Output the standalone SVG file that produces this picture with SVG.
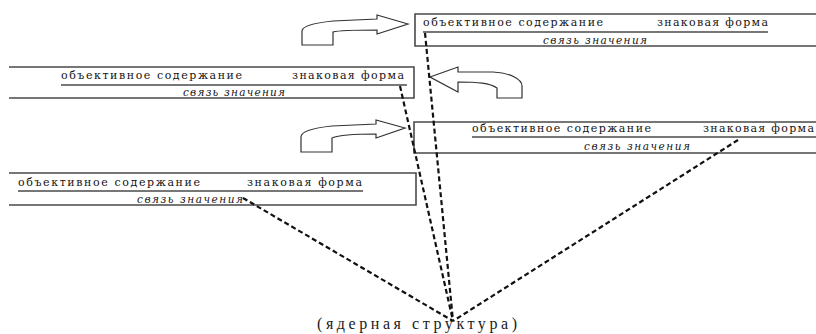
<svg xmlns="http://www.w3.org/2000/svg" width="816" height="334" viewBox="0 0 816 334">
<style>
.bg{fill:#ffffff}
.box{fill:none;stroke:#4a4a4a;stroke-width:1.6}
.ul{fill:none;stroke:#4a4a4a;stroke-width:1.6}
.t{font-family:"DejaVu Serif","Liberation Serif",serif;font-size:11px;fill:#141414}
.i{font-family:"DejaVu Serif","Liberation Serif",serif;font-size:10.5px;font-style:italic;fill:#141414}
.arr{fill:#ffffff;stroke:#333333;stroke-width:1.2;stroke-linejoin:miter}
.dash{fill:none;stroke:#111111;stroke-width:2.2;stroke-dasharray:5 3}
.core{font-family:"Liberation Serif","DejaVu Serif",serif;font-size:16px;fill:#1a1a1a}
</style>
<rect class="bg" x="0" y="0" width="816" height="334"/>

<g id="arrows">
<path id="arrowA" class="arr" d="M408,24 L377,15 L377,19 L333,21 C314,23 302,26 302,31 L302,45 L333,45 L333,32 C340,30 355,30 377,30 L377,34 Z"/>
<path id="arrowB" class="arr" d="M430,77 L458,67 L458,72 L493,72 C510,73 522,79 522,86 L522,98 L497,98 L497,88 C490,83 478,82 458,82 L458,92 Z"/>
<path id="arrowC" class="arr" d="M405,128 L376,120 L376,124 L332,126 C313,128 301,131 301,137 L301,152 L332,152 L332,138 C339,135 355,134 376,134 L376,138 Z"/>
</g>

<g id="box1">
<path class="box" d="M817,14 L415,14 L415,46 L817,46"/>
<text class="t" x="423" y="26" textLength="180" lengthAdjust="spacing">объективное содержание</text>
<text class="t" x="657" y="26" textLength="111" lengthAdjust="spacing">знаковая форма</text>
<line class="ul" x1="423" y1="32" x2="768" y2="32"/>
<text class="i" x="543" y="44" textLength="104" lengthAdjust="spacing">связь значения</text>
</g>

<g id="box2">
<path class="box" d="M9,67 L414,67 L414,98 L9,98"/>
<text class="t" x="61" y="79" textLength="181" lengthAdjust="spacing">объективное содержание</text>
<text class="t" x="292" y="79" textLength="112" lengthAdjust="spacing">знаковая форма</text>
<line class="ul" x1="61" y1="85" x2="407" y2="85"/>
<text class="i" x="183" y="96" textLength="102" lengthAdjust="spacing">связь значения</text>
</g>

<g id="box3">
<path class="box" d="M817,122 L414,122 L414,153 L817,153"/>
<text class="t" x="472" y="132" textLength="179" lengthAdjust="spacing">объективное содержание</text>
<text class="t" x="703" y="132" textLength="111" lengthAdjust="spacing">знаковая форма</text>
<line class="ul" x1="472" y1="137" x2="817" y2="137"/>
<text class="i" x="584" y="150" textLength="106" lengthAdjust="spacing">связь значения</text>
</g>

<g id="box4">
<path class="box" d="M9,173 L416,173 L416,205 L9,205"/>
<text class="t" x="18" y="186" textLength="182" lengthAdjust="spacing">объективное содержание</text>
<text class="t" x="247" y="186" textLength="115" lengthAdjust="spacing">знаковая форма</text>
<line class="ul" x1="18" y1="191" x2="363" y2="191"/>
<text class="i" x="137" y="203" textLength="106" lengthAdjust="spacing">связь значения</text>
</g>

<g id="connectors">
<line class="dash" x1="425" y1="33" x2="453" y2="321"/>
<line class="dash" x1="400" y1="86" x2="453" y2="321"/>
<line class="dash" x1="738" y1="140" x2="453" y2="321"/>
<line class="dash" x1="243" y1="198" x2="453" y2="321"/>
</g>

<g id="core">
<text class="core" x="317" y="329" textLength="200" lengthAdjust="spacing">(ядерная структура)</text>
</g>
</svg>
